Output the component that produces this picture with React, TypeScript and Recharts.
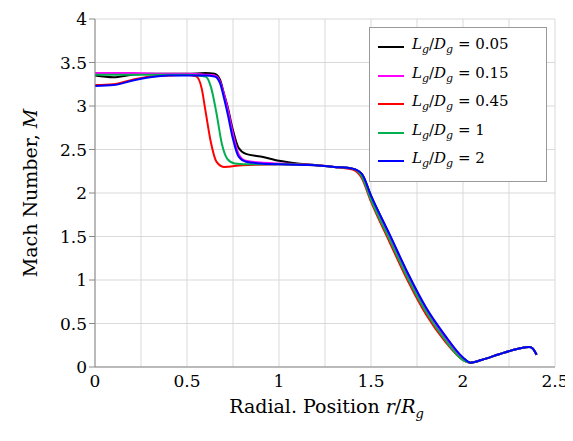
import { LineChart, Line, XAxis, YAxis, CartesianGrid } from 'recharts';

const xBlack = [0, 0.1, 0.2, 0.3, 0.4, 0.5, 0.6, 0.65, 0.68, 0.7, 0.72, 0.75, 0.78, 0.82, 0.9, 1.0, 1.1, 1.2, 1.3, 1.4, 1.45, 1.5, 1.6, 1.7, 1.8, 1.9, 2.0, 2.04, 2.1, 2.2, 2.3, 2.36, 2.38, 2.4];
const yBlack = [3.35, 3.33, 3.36, 3.37, 3.37, 3.37, 3.38, 3.37, 3.3, 3.15, 3.0, 2.72, 2.52, 2.45, 2.42, 2.37, 2.34, 2.32, 2.3, 2.28, 2.22, 1.97, 1.52, 1.07, 0.67, 0.36, 0.1, 0.05, 0.08, 0.15, 0.21, 0.23, 0.21, 0.14];
const xMagenta = [0, 0.2, 0.4, 0.5, 0.6, 0.65, 0.68, 0.7, 0.72, 0.75, 0.78, 0.82, 0.9, 1.0, 1.1, 1.2, 1.3, 1.4, 1.45, 1.5, 1.6, 1.7, 1.8, 1.9, 2.0, 2.04, 2.1, 2.2, 2.3, 2.36, 2.38, 2.4];
const yMagenta = [3.38, 3.38, 3.37, 3.37, 3.36, 3.35, 3.28, 3.14, 2.98, 2.68, 2.45, 2.37, 2.35, 2.34, 2.33, 2.32, 2.3, 2.28, 2.21, 1.95, 1.5, 1.05, 0.65, 0.34, 0.09, 0.05, 0.08, 0.15, 0.21, 0.23, 0.21, 0.14];
const xRed = [0, 0.1, 0.2, 0.3, 0.4, 0.5, 0.55, 0.58, 0.6, 0.63, 0.66, 0.7, 0.8, 1.0, 1.2, 1.3, 1.4, 1.45, 1.5, 1.6, 1.7, 1.8, 1.9, 2.0, 2.04, 2.1, 2.2, 2.3, 2.36, 2.38, 2.4];
const yRed = [3.24, 3.25, 3.3, 3.34, 3.35, 3.36, 3.34, 3.2, 2.95, 2.58, 2.36, 2.3, 2.32, 2.33, 2.32, 2.3, 2.27, 2.17, 1.9, 1.44, 0.99, 0.6, 0.3, 0.08, 0.05, 0.08, 0.15, 0.21, 0.23, 0.21, 0.14];
const xGreen = [0, 0.2, 0.4, 0.5, 0.6, 0.63, 0.66, 0.69, 0.72, 0.76, 0.85, 1.0, 1.2, 1.3, 1.4, 1.45, 1.5, 1.6, 1.7, 1.8, 1.9, 2.0, 2.04, 2.1, 2.2, 2.3, 2.36, 2.38, 2.4];
const yGreen = [3.36, 3.36, 3.36, 3.36, 3.34, 3.22, 2.92, 2.56, 2.39, 2.34, 2.33, 2.33, 2.32, 2.3, 2.28, 2.19, 1.92, 1.47, 1.02, 0.63, 0.32, 0.08, 0.05, 0.08, 0.15, 0.21, 0.23, 0.21, 0.14];
const xBlue = [0, 0.1, 0.2, 0.3, 0.4, 0.5, 0.6, 0.65, 0.68, 0.7, 0.72, 0.75, 0.78, 0.82, 0.9, 1.0, 1.2, 1.3, 1.4, 1.45, 1.5, 1.6, 1.7, 1.8, 1.9, 2.0, 2.04, 2.1, 2.2, 2.3, 2.36, 2.38, 2.4];
const yBlue = [3.23, 3.24, 3.29, 3.33, 3.35, 3.35, 3.35, 3.34, 3.26, 3.1, 2.92, 2.62, 2.42, 2.36, 2.34, 2.33, 2.32, 2.3, 2.28, 2.22, 1.97, 1.53, 1.08, 0.68, 0.37, 0.11, 0.05, 0.08, 0.15, 0.21, 0.23, 0.21, 0.14];

const xTicks = [0, 0.5, 1, 1.5, 2, 2.5];
const xGrid = [0, 0.25, 0.5, 0.75, 1, 1.25, 1.5, 1.75, 2, 2.25, 2.5];
const yTicks = [0, 0.5, 1, 1.5, 2, 2.5, 3, 3.5, 4];

const pts = (xs: number[], ys: number[]) => xs.map((x, i) => ({ x, y: ys[i] }));

const series = [
  { name: '0.05', color: '#000000', data: pts(xBlack, yBlack) },
  { name: '0.15', color: '#ff00ff', data: pts(xMagenta, yMagenta) },
  { name: '0.45', color: '#ff0000', data: pts(xRed, yRed) },
  { name: '1', color: '#00b050', data: pts(xGreen, yGreen) },
  { name: '2', color: '#0000ff', data: pts(xBlue, yBlue) },
];

const font = "'DejaVu Serif', 'Liberation Serif', 'Times New Roman', Tinos, serif";

function LegendBox() {
  return (
    <div style={{ position: 'absolute', left: 369, top: 27, width: 178, border: '1px solid #999', background: '#fff', padding: '5px 6px 5px 8px', fontFamily: font, fontSize: 15, lineHeight: '23.5px', boxSizing: 'border-box' }}>
      {series.map((s) => (
        <div key={s.name} style={{ display: 'flex', alignItems: 'center' }}>
          <span style={{ display: 'inline-block', width: 26, height: 2, background: s.color, marginRight: 8 }} />
          <span style={{ whiteSpace: 'nowrap' }}><i>L</i><sub style={{ fontSize: 11 }}><i>g</i></sub>/<i>D</i><sub style={{ fontSize: 11 }}><i>g</i></sub> = {s.name}</span>
        </div>
      ))}
    </div>
  );
}

export default function App() {
  return (
    <div style={{ margin: -8, width: 573, height: 441, background: '#fff', position: 'relative', fontFamily: font }}>
      <LineChart width={573} height={441} margin={{ top: 19, right: 18, left: 45, bottom: 44 }} style={{ fontFamily: font }}>
        <CartesianGrid stroke="#d9d9d9" />
        <XAxis type="number" dataKey="x" domain={[0, 2.5]} ticks={xGrid} interval={0} height={30}
          tickFormatter={(v) => (xTicks.includes(v) ? String(v) : '')}
          tick={{ fontSize: 17, fill: '#000', fontFamily: font }} tickLine={false} axisLine={{ stroke: '#888' }} />
        <YAxis type="number" domain={[0, 4]} ticks={yTicks} interval={0} width={50}
          tick={{ fontSize: 17, fill: '#000', fontFamily: font }} tickLine={{ stroke: '#888' }} axisLine={{ stroke: '#888' }} />
        {series.map((s) => (
          <Line key={s.name} data={s.data} dataKey="y" type="monotone" stroke={s.color} strokeWidth={2} dot={false} isAnimationActive={false} />
        ))}
      </LineChart>
      <div style={{ position: 'absolute', left: 0, right: 0, top: 394, textAlign: 'center', paddingLeft: 80, fontSize: 19, lineHeight: '24px', whiteSpace: 'nowrap' }}>
        Radial. Position <i>r</i>/<i>R</i><sub style={{ fontSize: 13 }}><i>g</i></sub>
      </div>
      <div style={{ position: 'absolute', left: 30, top: 193, transform: 'translate(-50%, -50%) rotate(-90deg)', fontSize: 19, whiteSpace: 'nowrap' }}>
        Mach Number, <i>M</i>
      </div>
      <LegendBox />
    </div>
  );
}
